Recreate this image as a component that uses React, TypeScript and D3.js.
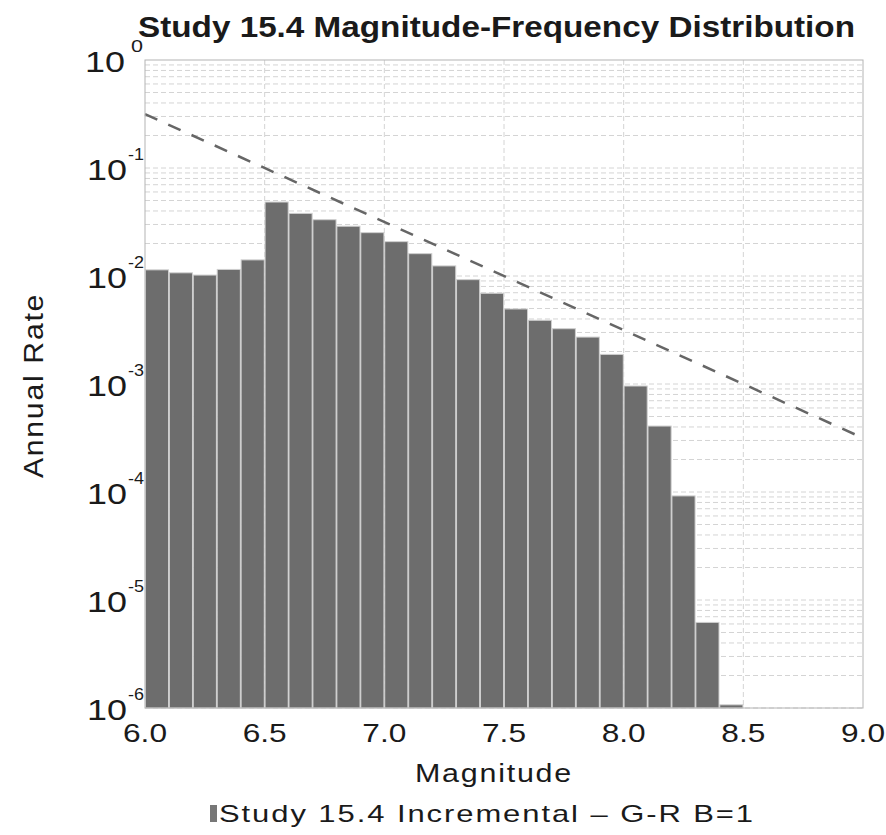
import React from "react";
import * as d3 from "d3";

const magnitudes = [6.0, 6.1, 6.2, 6.3, 6.4, 6.5, 6.6, 6.7, 6.8, 6.9, 7.0, 7.1, 7.2, 7.3, 7.4, 7.5, 7.6, 7.7, 7.8, 7.9, 8.0, 8.1, 8.2, 8.3, 8.4];
const incrementalRates = [0.0114, 0.0107, 0.0102, 0.0115, 0.0141, 0.0484, 0.038, 0.0332, 0.0289, 0.0252, 0.0208, 0.0161, 0.0124, 0.00925, 0.00692, 0.00495, 0.00389, 0.00325, 0.00272, 0.00188, 0.000958, 0.000408, 0.000092, 0.0000062, 0.00000107];
const grMagnitudes = [6.0, 9.0];
const grRates = [0.316, 0.000316];
const xTicks = [6.0, 6.5, 7.0, 7.5, 8.0, 8.5, 9.0];
const yExponents = [0, -1, -2, -3, -4, -5, -6];
const binWidth = 0.1;

const W = 886;
const H = 835;
const L = 145, R = 863, T = 60, B = 708;
const FONT = "'Liberation Sans', Arial, Helvetica, sans-serif";
const INK = "#1a1a1a";

export default function App() {
  const x = d3.scaleLinear().domain([6, 9]).range([L, R]);
  const y = d3.scaleLog().domain([1e-6, 1]).range([B, T]);

  const minor: number[] = [];
  for (let e = -6; e < 0; e++) {
    for (let k = 1; k <= 9; k++) minor.push(k * Math.pow(10, e));
  }

  const grLine = d3
    .line<number>()
    .x((_, i) => x(grMagnitudes[i]))
    .y((d) => y(d))(grRates);

  return (
    <svg width={W} height={H} style={{ display: "block", position: "absolute", left: 0, top: 0 }}>
      <rect x={0} y={0} width={W} height={H} fill="#fff" />
      {/* grid */}
      {minor.map((v, i) => (
        <line key={"h" + i} x1={L} x2={R} y1={y(v)} y2={y(v)} stroke="#d4d4d4" strokeWidth={1} strokeDasharray="5,3" />
      ))}
      {xTicks.slice(1, -1).map((t) => (
        <line key={"v" + t} x1={x(t)} x2={x(t)} y1={T} y2={B} stroke="#d4d4d4" strokeWidth={1} strokeDasharray="5,3" />
      ))}
      {/* bars */}
      {magnitudes.map((m, i) => {
        const x0 = x(m) + 0.4;
        const x1 = x(m + binWidth) - 0.4;
        const yt = y(incrementalRates[i]);
        return (
          <rect key={"b" + i} x={x0} y={yt} width={x1 - x0} height={B - yt} fill="#6d6d6d" stroke="#cfcfcf" strokeWidth={1} />
        );
      })}
      {/* G-R line */}
      <path d={grLine || ""} fill="none" stroke="#666" strokeWidth={2.5} strokeDasharray="13.5,12" />
      {/* border */}
      <rect x={L} y={T} width={R - L} height={B - T} fill="none" stroke="#b4b4b4" strokeWidth={1} />
      {/* x tick labels */}
      {xTicks.map((t) => (
        <text key={"xt" + t} x={x(t) - 22} y={742} fontFamily={FONT} fontSize={25} fill={INK} textLength={44} lengthAdjust="spacingAndGlyphs">
          {t.toFixed(1)}
        </text>
      ))}
      {/* y tick labels */}
      {yExponents.map((e) => {
        const ty = y(Math.pow(10, e));
        const sup = e === 0 ? "0" : "-" + Math.abs(e);
        return (
          <g key={"yt" + e}>
            <text x={e === 0 ? 85 : 87} y={ty + 12} fontFamily={FONT} fontSize={30} fill={INK} textLength={40} lengthAdjust="spacingAndGlyphs">
              10
            </text>
            <text x={e === 0 ? 131 : 128} y={ty - 8} fontFamily={FONT} fontSize={17} fill={INK} textLength={e === 0 ? 12 : 16} lengthAdjust="spacingAndGlyphs">
              {sup}
            </text>
          </g>
        );
      })}
      {/* title */}
      <text x={138} y={37} fontFamily={FONT} fontWeight="bold" fontSize={30} fill={INK} textLength={717} lengthAdjust="spacingAndGlyphs">
        Study 15.4 Magnitude-Frequency Distribution
      </text>
      {/* axis labels */}
      <text x={415} y={782} fontFamily={FONT} fontSize={26} letterSpacing={1.5} fill={INK} textLength={158} lengthAdjust="spacingAndGlyphs">
        Magnitude
      </text>
      <text transform="translate(43,478) rotate(-90)" x={0} y={0} fontFamily={FONT} fontSize={27} letterSpacing={1.5} fill={INK} textLength={185} lengthAdjust="spacingAndGlyphs">
        Annual Rate
      </text>
      {/* legend */}
      <rect x={210} y={805} width={7} height={17} fill="#777" />
      <text x={219} y={822} fontFamily={FONT} fontSize={24} letterSpacing={1.5} fill={INK} textLength={536} lengthAdjust="spacingAndGlyphs">
        Study 15.4 Incremental – G-R B=1
      </text>
    </svg>
  );
}
